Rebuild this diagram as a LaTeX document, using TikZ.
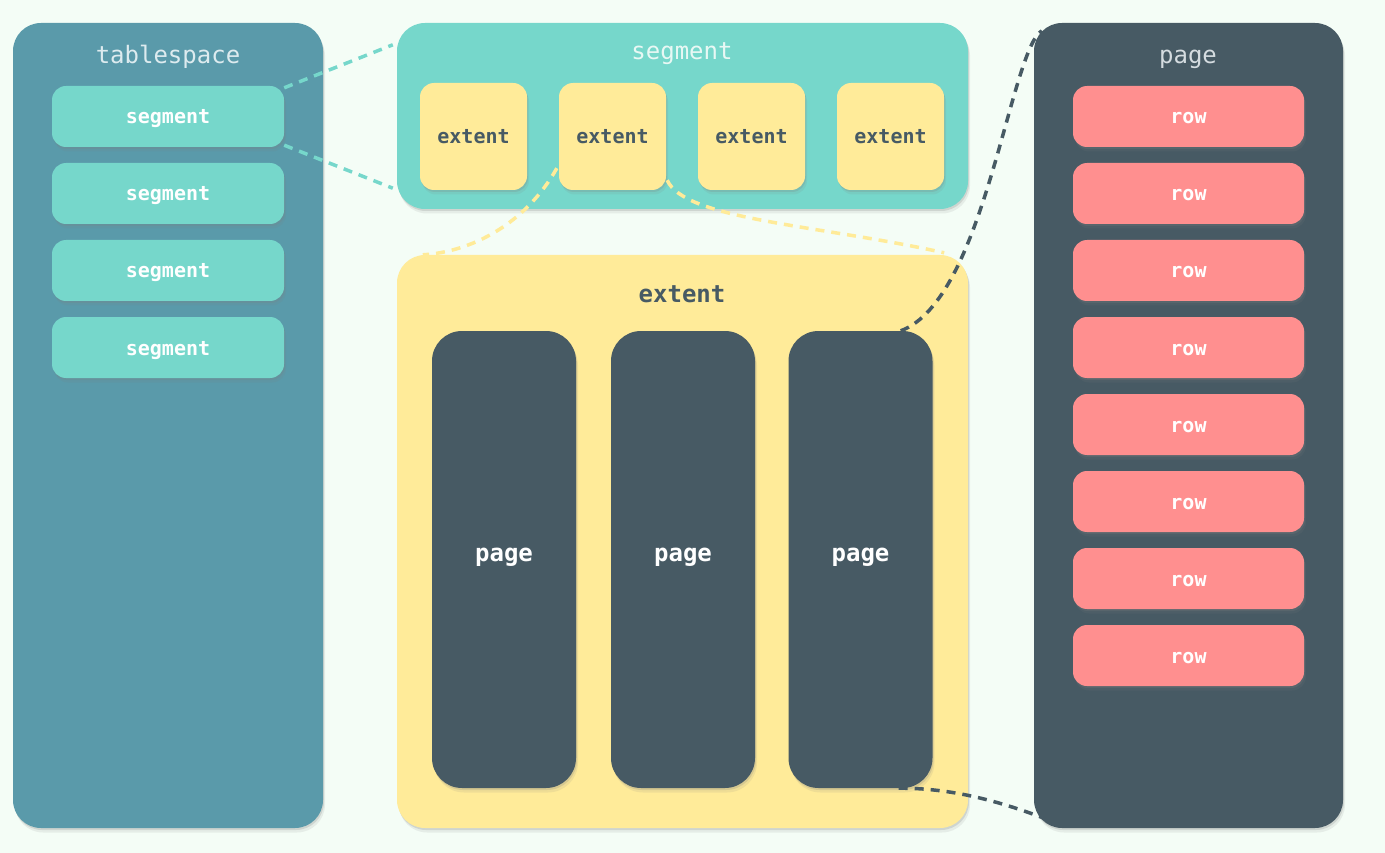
\documentclass[tikz,border=0pt]{standalone}
\usepackage{fontspec}
\setmonofont{DejaVu Sans Mono}
\usetikzlibrary{shadows}
\definecolor{bgcol}{HTML}{F4FDF6}
\definecolor{tscol}{HTML}{5A9AAA}
\definecolor{segcol}{HTML}{76D7CB}
\definecolor{extcol}{HTML}{FFEB99}
\definecolor{pagecol}{HTML}{475A64}
\definecolor{rowcol}{HTML}{FF8F8F}
\definecolor{tstitle}{HTML}{DDEBEF}
\definecolor{segtitle}{HTML}{E8F8F4}
\definecolor{pgtitle}{HTML}{D5DCE0}
\tikzset{
  box/.style={inner sep=0pt, draw=none, text height=16pt, text depth=1pt,
    drop shadow={opacity=0.12, shadow xshift=2pt, shadow yshift=-4.5pt},
    drop shadow={opacity=0.22, shadow xshift=1pt, shadow yshift=-2pt}},
  bigbox/.style={box, rounded corners=28pt},
  smallbox/.style={box, rounded corners=14pt, minimum width=232pt, minimum height=61pt},
  extbox/.style={box, fill=extcol, rounded corners=14pt, minimum width=107pt, minimum height=107pt},
  pagebox/.style={box, fill=pagecol, rounded corners=30pt, minimum width=144pt, minimum height=457pt,
    text height=8pt, text depth=4.5pt},
  lab/.style={font=\ttfamily\bfseries\fontsize{20}{24}\selectfont},
  biglab/.style={font=\ttfamily\bfseries\fontsize{24}{28}\selectfont},
  titl/.style={font=\ttfamily\fontsize{24}{28}\selectfont},
  ttl/.style={inner sep=0pt, anchor=base},
  link/.style={line width=3.5pt, dash pattern=on 9pt off 7pt},
}
\begin{document}
\begin{tikzpicture}[x=1pt,y=-1pt]
\fill[bgcol] (0,0) rectangle (1385,853);
\useasboundingbox (0,0) rectangle (1385,853);

% tablespace
\node[bigbox, fill=tscol, minimum width=310pt, minimum height=805pt] (ts) at (168,425.5) {};
\node[ttl, titl, text=tstitle] (tstitle) at (168,64) {tablespace};
\foreach \i/\y in {1/116.5,2/193.5,3/270.5,4/347.5}
  \node[smallbox, fill=segcol, lab, text=white] (s\i) at (168,\y) {segment};

% segment
\node[bigbox, fill=segcol, minimum width=571pt, minimum height=186pt] (segbox) at (682.5,116) {};
\node[ttl, titl, text=segtitle] (segtitle) at (682,60) {segment};
\foreach \i/\x in {1/473.5,2/612.5,3/751.5,4/890.5}
  \node[extbox, lab, text=pagecol] (e\i) at (\x,136.5) {extent};

% extent
\node[bigbox, fill=extcol, minimum width=571pt, minimum height=573pt] (exbox) at (682.5,541.5) {};
\node[ttl, biglab, text=pagecol] (extitle) at (682,302) {extent};
\foreach \i/\x in {1/504,2/683,3/860.5}
  \node[pagebox, biglab, text=white] (p\i) at (\x,559.5) {page};

% page
\node[bigbox, fill=pagecol, minimum width=309pt, minimum height=805pt] (pgbox) at (1188.5,425.5) {};
\node[ttl, titl, text=pgtitle] (pgtitle) at (1188,64) {page};
\foreach \i/\y in {1/116.5,2/193.5,3/270.5,4/347.5,5/424.5,6/501.5,7/578.5,8/655.5}
  \node[smallbox, fill=rowcol, minimum width=231pt, lab, text=white] (r\i) at (1188.5,\y) {row};

% connectors
\draw[link, segcol] ([yshift=-2pt]s1.north east) -- ([xshift=-4pt,yshift=-22pt]segbox.north west);
\draw[link, segcol] ([yshift=2pt]s1.south east) -- ([xshift=-4pt,yshift=21pt]segbox.south west);
\draw[link, extcol] ([xshift=-2pt,yshift=22pt]e2.south west) .. controls (525,225) and (470,252) .. ([xshift=26pt]exbox.north west);
\draw[link, extcol] ([xshift=1pt,yshift=10pt]e2.south east) .. controls (685,220) and (820,225) .. ([xshift=-24pt,yshift=2pt]exbox.north east);
\draw[link, pagecol] ([xshift=-32pt]p3.north east) .. controls (985,300) and (1010,50) .. ([xshift=8pt,yshift=-8pt]pgbox.north west);
\draw[link, pagecol] ([xshift=-34pt]p3.south east) .. controls (950,788) and (1000,800) .. ([xshift=28pt,yshift=3pt]pgbox.south west);
\end{tikzpicture}
\end{document}
